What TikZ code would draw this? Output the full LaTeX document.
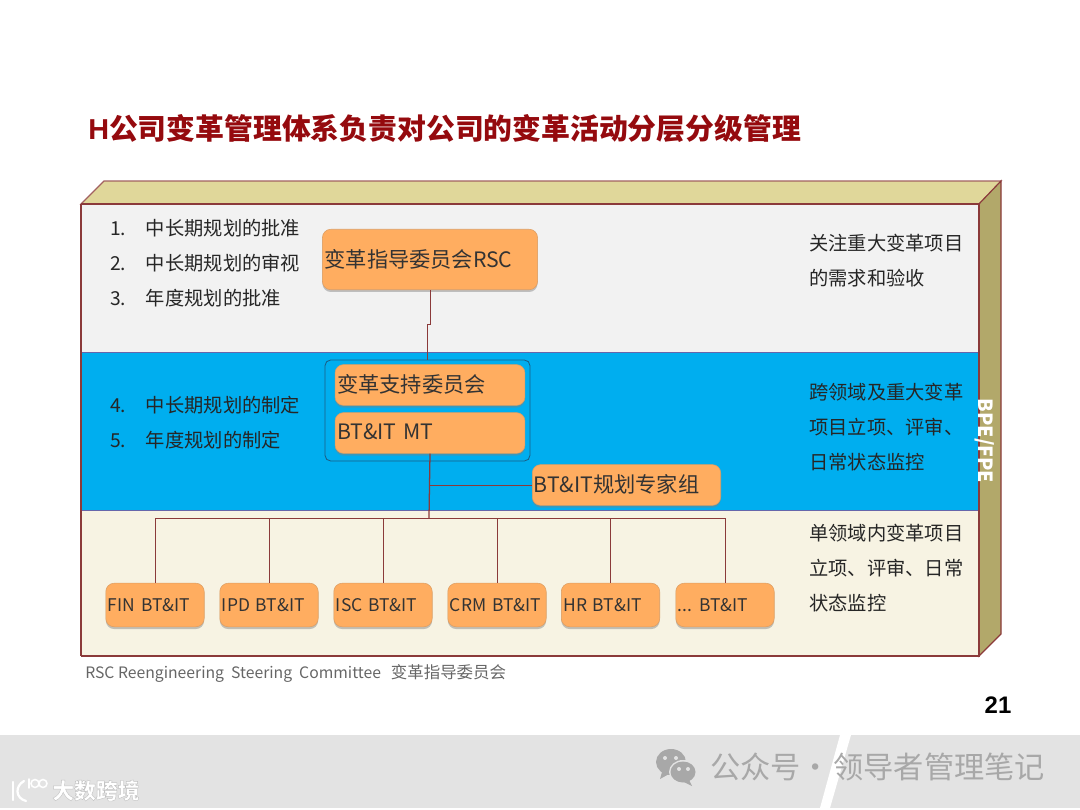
\documentclass[tikz,border=0pt]{standalone}
\usepackage{fontspec}
\setmainfont{Noto Sans CJK SC}
\newfontfamily\arialfont{Liberation Sans}
\usetikzlibrary{positioning,shadows}
\definecolor{edgered}{HTML}{8B3A3A}
\definecolor{darkred}{HTML}{950A0E}
\definecolor{boxfill}{HTML}{FFAD60}
\definecolor{topface}{HTML}{E0D79A}
\definecolor{sideface}{HTML}{B2A86A}
\definecolor{bandgray}{HTML}{F2F2F2}
\definecolor{bandblue}{HTML}{00AEEF}
\definecolor{bandcream}{HTML}{F7F3E3}
\definecolor{footgray}{HTML}{E3E3E3}
\definecolor{markgray}{HTML}{A8A8A8}
\definecolor{groupline}{HTML}{1B5E86}
\tikzset{
  orgbox/.style={draw=boxfill!85!black!90,fill=boxfill,rounded corners=6pt,inner sep=0pt,
    drop shadow={shadow xshift=0pt,shadow yshift=-1.6pt,opacity=0.45},
    text=black!80,align=left,text depth=0pt},
  bigbox/.style={orgbox,text depth=2pt,font=\fontsize{15.1}{15}\selectfont},
  unitbox/.style={orgbox,minimum width=70pt,minimum height=31pt,text width=67pt,font=\fontsize{12.4}{12}\selectfont},
  note/.style={anchor=north west,inner sep=0pt,text=black!85,align=left,
    font=\fontsize{13.7}{25}\selectfont},
  link/.style={draw=edgered,line width=0.6pt},
}
\begin{document}
\begin{tikzpicture}[x=0.025cm,y=-0.025cm]
  \useasboundingbox (0,0) rectangle (1080,810);
  % title
  \node (title) [anchor=west,inner sep=0pt,text=darkred,font=\fontsize{20.5}{24}\selectfont\bfseries] at (88,129) {{\arialfont H}公司变革管理体系负责对公司的变革活动分层分级管理};
  %
  % box faces
  \draw[edgered!80,fill=topface,line width=0.8pt] (81,204) -- (104,181) -- (1001,181) -- (979,204) -- cycle;
  \draw[edgered,fill=sideface,line width=0.8pt] (979,204) -- (1001,181) -- (1001,634) -- (979,656) -- cycle;
  \fill[bandgray] (81,204) rectangle (979,352);
  \fill[bandblue] (81,352) rectangle (979,510);
  \fill[bandcream] (81,510) rectangle (979,656);
  \draw[black!55!blue!60,line width=0.6pt] (81,352) -- (979,352);
  \draw[black!55!blue!60,line width=0.6pt] (81,510.5) -- (979,510.5);
  \draw[edgered,line width=0.8pt] (979,204) -- (81,204);
  \draw[edgered,line width=1.2pt] (81,204) -- (81,656);
  \draw[edgered,line width=0.8pt] (81,656) -- (979,656) -- (979,204);
  \node (side) [rotate=-90,text=white,inner sep=0pt,font=\fontsize{13.9}{14}\selectfont\bfseries] at (984.5,441) {BPE/FPE};
  %
  % left lists
  \node (listtop) [note] at (110,219) {1.\hspace{14pt}中长期规划的批准\\2.\hspace{14pt}中长期规划的审视\\3.\hspace{14pt}年度规划的批准};
  \node (listmid) [note] at (110,396) {4.\hspace{14pt}中长期规划的制定\\5.\hspace{14pt}年度规划的制定};
  %
  % right notes
  \node (notetop) [note] at (809,234) {关注重大变革项目\\的需求和验收};
  \node (notemid) [note] at (809,382.5) {跨领域及重大变革\\项目立项、评审、\\日常状态监控};
  \node (notelow) [note] at (809,524) {单领域内变革项目\\立项、评审、日常\\状态监控};
  %
  % upper boxes
  \draw[groupline,rounded corners=4pt,line width=0.6pt] (325,360) rectangle (530,461);
  \coordinate (groupnorth) at (427,360);
  \node (rsc) [bigbox,minimum width=153pt,minimum height=43pt,text width=150pt] at (430,259.5) {变革指导委员会RSC};
  \node (support) [bigbox,minimum width=135pt,minimum height=29pt,text width=132pt] at (430,385) {变革支持委员会};
  \node (mt) [bigbox,minimum width=135pt,minimum height=29pt,text width=132pt] at (430,433) {BT\&IT MT};
  \node (expert) [bigbox,minimum width=134pt,minimum height=29pt,text width=132pt] at (626.5,485) {BT\&IT规划专家组};
  %
  % lower boxes
  \node (fin) [unitbox] at (155,605) {FIN BT\&IT};
  \node (ipd) [unitbox] at (269,605) {IPD BT\&IT};
  \node (isc) [unitbox] at (383,605) {ISC BT\&IT};
  \node (crm) [unitbox] at (497,605) {CRM BT\&IT};
  \node (hr) [unitbox] at (610.5,605) {HR BT\&IT};
  \node (etc) [unitbox] at (725,605) {...\hspace{-1.5pt} BT\&IT};
  %
  % connectors
  \coordinate (bus) at (429,518);
  \draw[link] (rsc.south) -- (430,324) -- (427,324) -- (groupnorth);
  \draw[link,line width=0.9pt] (mt.south) -- (bus);
  \draw[link] (429,485) -- (expert.west);
  \foreach \unit in {fin,ipd,isc,crm,hr,etc}
    \draw[link] (bus) -| (\unit.north);
  %
  % source line and page number
  \node (source) [anchor=west,inner sep=0pt,text=black!60,font=\fontsize{11.2}{12}\selectfont] at (85,673.5) {RSC Reengineering\hspace{2.5pt} Steering\hspace{2.5pt} Committee\hspace{4.5pt} {\fontsize{11.7}{12}\selectfont 变革指导委员会}};
  \node (page) [inner sep=0pt,font=\arialfont\fontsize{17}{18}\selectfont\bfseries] at (998,705) {21};
  %
  % footer strip
  \fill[footgray] (0,735) rectangle (1080,808);
  \fill[white] (840,735) -- (851,735) -- (830,808) -- (820,808) -- cycle;
  \fill[markgray] (671,762) ellipse (15 and 13);
  \fill[markgray] (662,772) -- (660,779) -- (669,774) -- cycle;
  \fill[footgray] (683,772) ellipse (14 and 12);
  \fill[markgray] (683,772) ellipse (12.5 and 10.5);
  \fill[markgray] (689,780) -- (692,786) -- (684,782) -- cycle;
  \foreach \eye in {(665,758),(676,758),(679,769),(688,769)}
    \fill[footgray] \eye circle (2);
  \node (mark) [anchor=west,inner sep=0pt,text=markgray,font=\fontsize{21.5}{24}\selectfont] at (710,767) {公众号·\hspace{1.5pt}领导者管理笔记};
  \draw[white,line width=1.6pt,line cap=round] (13,782) -- (13,800);
  \draw[white,line width=1.6pt,line cap=round] (24,781) .. controls (15,786) and (15,798) .. (26,801);
  \draw[white,line width=1.2pt,line cap=round] (29,779) -- (29,788);
  \draw[white,line width=1.1pt] (35,783.5) circle (4);
  \draw[white,line width=1.1pt] (43,783.5) circle (4);
  \node (brand) [anchor=west,inner sep=0pt,text=white,font=\fontsize{15.5}{16}\selectfont\bfseries] at (52,790.5) {\special{pdf:code 2 Tr 0.76 G 0.3 w}大数跨境\special{pdf:code 0 Tr 0 G 1 w}};
\end{tikzpicture}
\end{document}
